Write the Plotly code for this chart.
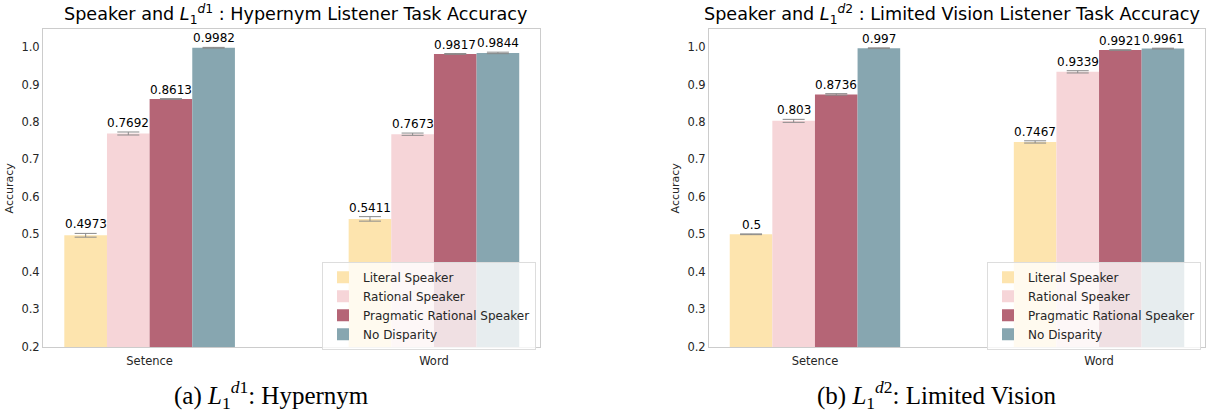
import plotly.graph_objects as go

categories = ["Setence", "Word"]
series_names = ["Literal Speaker", "Rational Speaker", "Pragmatic Rational Speaker", "No Disparity"]
colors = ["#fde4ae", "#f6d5d8", "#b56576", "#87a6b0"]

# Left panel (Hypernym)
left_values = [
    [0.4973, 0.5411],
    [0.7692, 0.7673],
    [0.8613, 0.9817],
    [0.9982, 0.9844],
]
left_errors = [
    [0.005, 0.006],
    [0.004, 0.003],
    [0.001, 0.001],
    [0.001, 0.002],
]
# Right panel (Limited Vision)
right_values = [
    [0.5, 0.7467],
    [0.803, 0.9339],
    [0.8736, 0.9921],
    [0.997, 0.9961],
]
right_errors = [
    [0.001, 0.003],
    [0.004, 0.003],
    [0.002, 0.001],
    [0.001, 0.001],
]
left_labels = [["0.4973", "0.5411"], ["0.7692", "0.7673"], ["0.8613", "0.9817"], ["0.9982", "0.9844"]]
right_labels = [["0.5", "0.7467"], ["0.803", "0.9339"], ["0.8736", "0.9921"], ["0.997", "0.9961"]]

y_ticks = [0.2, 0.3, 0.4, 0.5, 0.6, 0.7, 0.8, 0.9, 1.0]

W, H = 1215, 416
FONT = "DejaVu Sans"
TXT = "#262626"

fig = go.Figure()

panels = [
    ("x", "y", "legend", left_values, left_errors, left_labels),
    ("x2", "y2", "legend2", right_values, right_errors, right_labels),
]
n = len(series_names)
width = 0.15
for xa, ya, lg, vals, errs, labs in panels:
    for i in range(n):
        offset = (i - (n - 1) / 2) * width
        xs = [j + offset for j in range(len(categories))]
        fig.add_trace(go.Bar(
            x=xs, y=vals[i], width=width, name=series_names[i],
            marker=dict(color=colors[i], line=dict(width=0)),
            error_y=dict(type="data", array=errs[i], color="#8a8a8a", thickness=1, width=11),
            xaxis=xa, yaxis=ya, legend=lg,
        ))
        for j in range(len(categories)):
            fig.add_annotation(
                x=xs[j], y=vals[i][j] + errs[i][j], xref=xa, yref=ya,
                text=labs[i][j], showarrow=False, xanchor="center", yanchor="bottom", yshift=0,
                font=dict(family=FONT, size=12, color="black"),
            )

def px_x(p):
    return p / W

def px_y(p):
    return 1 - p / H

axis_common = dict(
    showgrid=False, zeroline=False, showline=True, linecolor="#cccccc", linewidth=1,
    mirror=True, ticks="", tickfont=dict(family=FONT, size=11.5, color=TXT),
)

fig.update_layout(
    width=W, height=H, margin=dict(l=0, r=0, t=0, b=0),
    paper_bgcolor="white", plot_bgcolor="white",
    barmode="overlay",
    font=dict(family=FONT, color=TXT),
    xaxis=dict(domain=[px_x(43), px_x(540)], range=[-0.375, 1.373], anchor="y",
               tickvals=[0, 1], ticktext=categories, ticklabelstandoff=3, **axis_common),
    yaxis=dict(domain=[px_y(353), px_y(30)], range=[0.1987, 1.047], anchor="x",
               tickvals=y_ticks, ticktext=[f"{v:.1f}" for v in y_ticks],
               title=dict(text="Accuracy", font=dict(family=FONT, size=11, color=TXT), standoff=5),
               **axis_common),
    xaxis2=dict(domain=[px_x(709), px_x(1205)], range=[-0.373, 1.373], anchor="y2",
                tickvals=[0, 1], ticktext=categories, ticklabelstandoff=3, **axis_common),
    yaxis2=dict(domain=[px_y(353), px_y(30)], range=[0.1987, 1.047], anchor="x2",
                tickvals=y_ticks, ticktext=[f"{v:.1f}" for v in y_ticks],
                title=dict(text="Accuracy", font=dict(family=FONT, size=11, color=TXT), standoff=5),
                **axis_common),
    legend=dict(x=px_x(536), y=px_y(311), xanchor="right", yanchor="middle",
                bgcolor="rgba(255,255,255,0.8)", bordercolor="#dddddd", borderwidth=1,
                font=dict(family=FONT, size=12, color=TXT), tracegroupgap=0),
    legend2=dict(x=px_x(1201), y=px_y(311), xanchor="right", yanchor="middle",
                 bgcolor="rgba(255,255,255,0.8)", bordercolor="#dddddd", borderwidth=1,
                 font=dict(family=FONT, size=12, color=TXT), tracegroupgap=0),
    showlegend=True,
)

# Titles
fig.add_annotation(x=px_x(295), y=px_y(15), xref="paper", yref="paper", showarrow=False,
                   xanchor="center", yanchor="middle",
                   text="Speaker and <i>L</i><sub>1</sub><sup><i>d</i>1</sup> : Hypernym Listener Task Accuracy",
                   font=dict(family=FONT, size=17.6, color="black"))
fig.add_annotation(x=px_x(952), y=px_y(15), xref="paper", yref="paper", showarrow=False,
                   xanchor="center", yanchor="middle",
                   text="Speaker and <i>L</i><sub>1</sub><sup><i>d</i>2</sup> : Limited Vision Listener Task Accuracy",
                   font=dict(family=FONT, size=17.6, color="black"))
# Captions
fig.add_annotation(x=px_x(271), y=px_y(402), xref="paper", yref="paper", showarrow=False,
                   xanchor="center", yanchor="middle",
                   text="(a) <i>L</i><sub>1</sub><sup><i>d</i>1</sup>: Hypernym",
                   font=dict(family="Liberation Serif", size=25, color="black"))
fig.add_annotation(x=px_x(936), y=px_y(402), xref="paper", yref="paper", showarrow=False,
                   xanchor="center", yanchor="middle",
                   text="(b) <i>L</i><sub>1</sub><sup><i>d</i>2</sup>: Limited Vision",
                   font=dict(family="Liberation Serif", size=25, color="black"))

fig.write_html("out.html", config={"displayModeBar": False},
               post_script="document.body.style.margin='0';document.body.style.overflow='hidden';")
